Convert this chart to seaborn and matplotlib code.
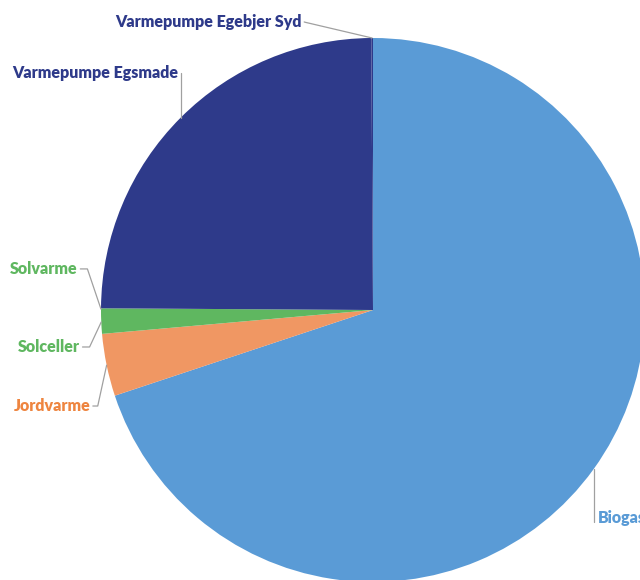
import matplotlib.pyplot as plt
import seaborn as sns
import numpy as np

sns.set_theme(style="white")
plt.rcParams['font.family'] = ['Lato', 'DejaVu Sans']

# data, clockwise from 12 o'clock
labels = ["Biogas", "Jordvarme", "Solceller", "Solvarme",
          "Varmepumpe Egsmade", "Varmepumpe Egebjer Syd"]
shares = [69.9, 3.7, 1.4, 0.1, 24.8, 0.1]
colors = ["#5A9BD6", "#F09763", "#5FB760", "#5FB760", "#2E3A8A", "#2E3A8A"]
text_colors = ["#5A9BD6", "#EE8540", "#5FB760", "#5FB760", "#2E3A8A", "#2E3A8A"]

# label placement (data units, pie radius = 1): text anchor, elbow, alignment
label_pos = {
    "Biogas": ((0.825, -0.765), (0.81, -0.78), "left"),
    "Jordvarme": ((-1.04, -0.353), (-1.012, -0.353), "right"),
    "Solceller": ((-1.078, -0.136), (-1.042, -0.136), "right"),
    "Solvarme": ((-1.086, 0.151), (-1.05, 0.151), "right"),
    "Varmepumpe Egsmade": ((-0.715, 0.871), (-0.707, 0.871), "right"),
    "Varmepumpe Egebjer Syd": ((-0.263, 1.059), (-0.25, 1.058), "right"),
}

fig = plt.figure(figsize=(6.4, 5.8), dpi=100)
# pie centre at (373, 310) px, radius 272 px
ax = fig.add_axes([101 / 640, -2 / 580, 544 / 640, 544 / 580])
wedges, _ = ax.pie(shares, colors=colors, startangle=90, counterclock=False,
                   radius=1, wedgeprops=dict(linewidth=0))
ax.set_xlim(-1, 1)
ax.set_ylim(-1, 1)
ax.set_aspect("equal")
ax.axis("off")

for w, lab, tc in zip(wedges, labels, text_colors):
    mid = np.deg2rad((w.theta1 + w.theta2) / 2)
    px, py = np.cos(mid), np.sin(mid)
    (tx, ty), (ex, ey), ha = label_pos[lab]
    if lab == "Biogas":
        ax.plot([px, px], [py, ey], color="#A0A0A0", lw=0.9, clip_on=False)
    elif lab == "Varmepumpe Egsmade":
        ax.plot([px, px, ex], [py, ey, ey], color="#A0A0A0", lw=0.9, clip_on=False)
    else:
        ax.plot([px, ex, tx + 0.01], [py, ey, ty], color="#A0A0A0", lw=0.9,
                clip_on=False)
    ax.text(tx, ty, lab, ha=ha, va="center", color=tc, fontsize=11.5,
            fontweight="heavy", clip_on=False)

fig.savefig("out.png", dpi=100)
